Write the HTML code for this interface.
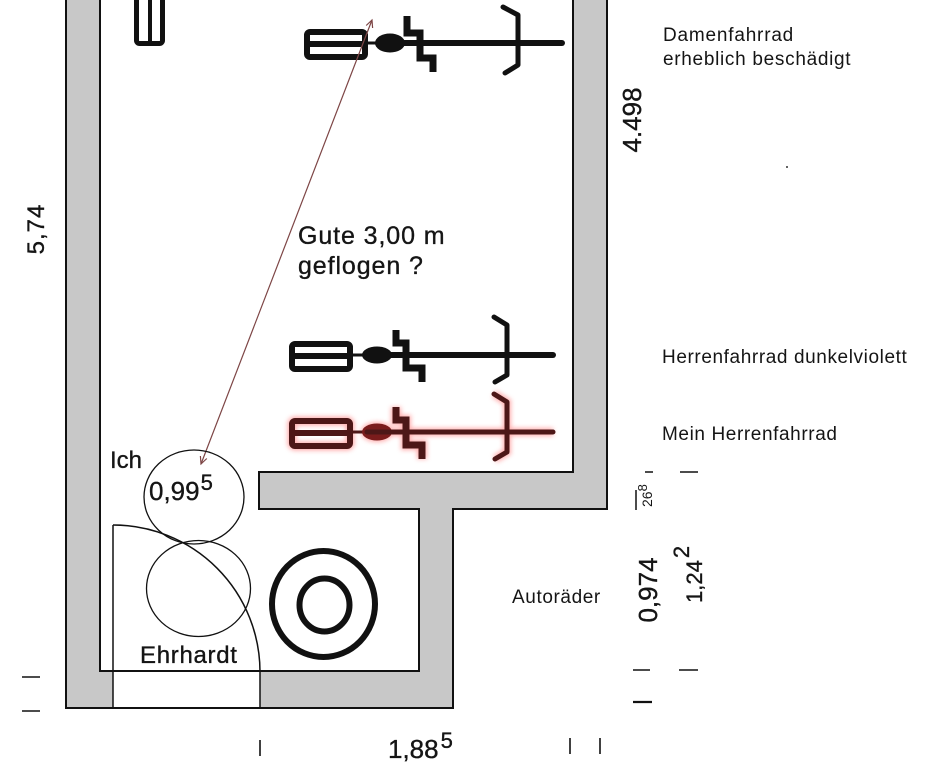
<!DOCTYPE html>
<html><head><meta charset="utf-8"><style>
html,body{margin:0;padding:0;background:#fff;}
svg{display:block;}
text{font-family:"Liberation Sans",Arial,sans-serif;fill:#151515;}
.b{stroke:#151515;stroke-width:0.35;}
</style></head><body>
<svg width="930" height="778" viewBox="0 0 930 778" xmlns="http://www.w3.org/2000/svg">
<defs>
<filter id="glow" x="-20%" y="-40%" width="140%" height="180%"><feGaussianBlur stdDeviation="2.5"/></filter>
</defs>
<rect x="0" y="0" width="930" height="778" fill="#fff"/>
<!-- walls -->
<path d="M66,-5 H607 V509 H453 V708 H66 Z M100,-5 V671 H419 V509 H259 V472 H573 V-5 Z" fill="#c8c8c8" fill-rule="evenodd"/>
<rect x="113" y="672" width="147" height="35" fill="#fff"/>
<polyline points="66,-5 66,708 453,708 453,509 607,509 607,-5" fill="none" stroke="#111" stroke-width="2"/>
<polyline points="100,-5 100,671 419,671 419,509 259,509 259,472 573,472 573,-5" fill="none" stroke="#111" stroke-width="2"/>
<!-- door -->
<line x1="113" y1="525" x2="113" y2="708" stroke="#111" stroke-width="1.5"/>
<line x1="260" y1="670" x2="260" y2="708" stroke="#111" stroke-width="1.5"/>
<path d="M113,525 A147,147 0 0 1 260,672" fill="none" stroke="#111" stroke-width="1.5"/>

<!-- top-left icon -->
<rect x="136.5" y="-10" width="26" height="53.5" rx="3" fill="none" stroke="#111" stroke-width="5"/>
<line x1="150" y1="-10" x2="150" y2="43" stroke="#111" stroke-width="4"/>

<!-- top bike -->
<g transform="translate(518,43)" stroke="#111" fill="none">
  <rect x="-211" y="-11" width="58" height="25" rx="3" stroke-width="6"/>
  <line x1="-208" y1="1" x2="-155" y2="1" stroke-width="6"/>
  <line x1="-152" y1="0" x2="-140" y2="0" stroke-width="3"/>
  <ellipse cx="-128" cy="0" rx="15" ry="9.5" fill="#111" stroke="none"/>
  <line x1="-140" y1="0" x2="44" y2="0" stroke-width="6" stroke-linecap="round"/>
  <path d="M-111,-27 V-10 H-98 V15 H-85 V29" stroke-width="7" stroke-linejoin="miter"/>
  <path d="M-15,-36 L0,-28 V22 L-13,30" stroke-width="5" stroke-linecap="round" stroke-linejoin="round"/>
</g>

<!-- middle bike -->
<g transform="translate(507,355)" stroke="#111" fill="none">
  <rect x="-215" y="-11" width="58" height="25" rx="3" stroke-width="6"/>
  <line x1="-212" y1="1" x2="-159" y2="1" stroke-width="6"/>
  <line x1="-156" y1="0" x2="-140" y2="0" stroke-width="3"/>
  <ellipse cx="-130" cy="0" rx="15" ry="8.5" fill="#111" stroke="none"/>
  <line x1="-140" y1="0" x2="46" y2="0" stroke-width="6" stroke-linecap="round"/>
  <path d="M-111,-25 V-12 H-101 V13 H-85 V27" stroke-width="7"/>
  <path d="M-13,-38 L0,-30 V20 L-12,27" stroke-width="5" stroke-linecap="round" stroke-linejoin="round"/>
</g>

<!-- red bike -->
<g transform="translate(507,432)" fill="none">
  <g stroke="#ff8a8a" filter="url(#glow)" opacity="0.7">
    <rect x="-215" y="-11" width="58" height="25" rx="3" stroke-width="9"/>
    <line x1="-140" y1="0" x2="46" y2="0" stroke-width="8"/>
    <ellipse cx="-130" cy="0" rx="16" ry="10" fill="#ff8a8a" stroke="none"/>
    <path d="M-111,-25 V-12 H-101 V13 H-85 V27" stroke-width="10"/>
    <path d="M-13,-38 L0,-30 V20 L-12,27" stroke-width="8"/>
  </g>
  <g stroke="#4d1717">
    <rect x="-215" y="-11" width="58" height="25" rx="3" stroke-width="6"/>
    <line x1="-212" y1="1" x2="-159" y2="1" stroke-width="6"/>
    <line x1="-156" y1="0" x2="-140" y2="0" stroke-width="3"/>
    <ellipse cx="-130" cy="0" rx="15" ry="8.5" fill="#7a1c1c" stroke="none"/>
    <line x1="-140" y1="0" x2="46" y2="0" stroke-width="5" stroke-linecap="round"/>
    <path d="M-111,-25 V-12 H-101 V13 H-85 V27" stroke-width="7"/>
    <path d="M-13,-38 L0,-30 V20 L-12,27" stroke-width="5" stroke-linecap="round" stroke-linejoin="round"/>
  </g>
</g>

<!-- flight line -->
<g stroke="#7d4545" stroke-width="1.2" fill="none">
  <line x1="372" y1="20" x2="201" y2="464"/>
  <polyline points="366.2,25.5 372,20 372.6,28"/>
  <polyline points="206.8,458.5 201,464 200.4,456"/>
</g>

<!-- circles -->
<ellipse cx="194" cy="497" rx="50" ry="47" fill="none" stroke="#111" stroke-width="1.3"/>
<ellipse cx="198.5" cy="588.5" rx="52" ry="48" fill="none" stroke="#111" stroke-width="1.3"/>
<ellipse cx="323.5" cy="604" rx="51.5" ry="53" fill="none" stroke="#111" stroke-width="6"/>
<ellipse cx="324.5" cy="605" rx="25" ry="26.5" fill="none" stroke="#111" stroke-width="6"/>

<!-- texts -->
<text class="b" x="298" y="244" font-size="25" letter-spacing="0.9">Gute 3,00 m</text>
<text class="b" x="298" y="274" font-size="25" letter-spacing="0.9">geflogen ?</text>
<text class="b" x="110" y="468" font-size="24">Ich</text>
<text class="b" x="149" y="500" font-size="26">0,99<tspan font-size="22" dx="1" dy="-10">5</tspan></text>
<text class="b" x="140" y="663" font-size="24" letter-spacing="0.7">Ehrhardt</text>
<text x="512" y="603" font-size="19" letter-spacing="0.6">Autoräder</text>
<text x="663" y="41" font-size="19" letter-spacing="0.8">Damenfahrrad</text>
<text x="663" y="65" font-size="19" letter-spacing="0.7">erheblich beschädigt</text>
<text x="662" y="363" font-size="19" letter-spacing="0.6">Herrenfahrrad dunkelviolett</text>
<text x="662" y="440" font-size="19" letter-spacing="0.6">Mein Herrenfahrrad</text>

<text class="b" transform="translate(44,229) rotate(-90)" font-size="24" text-anchor="middle" letter-spacing="1">5,74</text>
<text class="b" transform="translate(641,120) rotate(-90)" font-size="26" text-anchor="middle">4.498</text>
<text class="b" transform="translate(657,590) rotate(-90)" font-size="26" text-anchor="middle">0,974</text>
<text class="b" transform="translate(702,603) rotate(-90)" font-size="22">1,24<tspan dx="2" dy="-13">2</tspan></text>
<text transform="translate(652,507) rotate(-90)" font-size="14">26<tspan font-size="13" dy="-5">8</tspan></text>
<line x1="636" y1="490" x2="636" y2="510" stroke="#111" stroke-width="1.5"/>
<line x1="645" y1="472" x2="653" y2="472" stroke="#111" stroke-width="1.5"/>

<text class="b" x="388" y="758" font-size="26">1,88<tspan font-size="22" dx="2" dy="-10">5</tspan></text>

<!-- ticks -->
<g stroke="#111" stroke-width="1.6">
  <line x1="22" y1="677" x2="40" y2="677"/>
  <line x1="22" y1="711" x2="40" y2="711"/>
  <line x1="260" y1="740" x2="260" y2="756"/>
  <line x1="570" y1="738" x2="570" y2="754"/>
  <line x1="600" y1="738" x2="600" y2="754"/>
  <line x1="680" y1="472" x2="698" y2="472"/>
  <line x1="633" y1="670" x2="650" y2="670"/>
  <line x1="679" y1="670" x2="698" y2="670"/>
  <line x1="633" y1="702" x2="652" y2="702" stroke-width="2.2"/>
</g>
<circle cx="787" cy="167" r="1" fill="#333"/>
</svg>
</body></html>
